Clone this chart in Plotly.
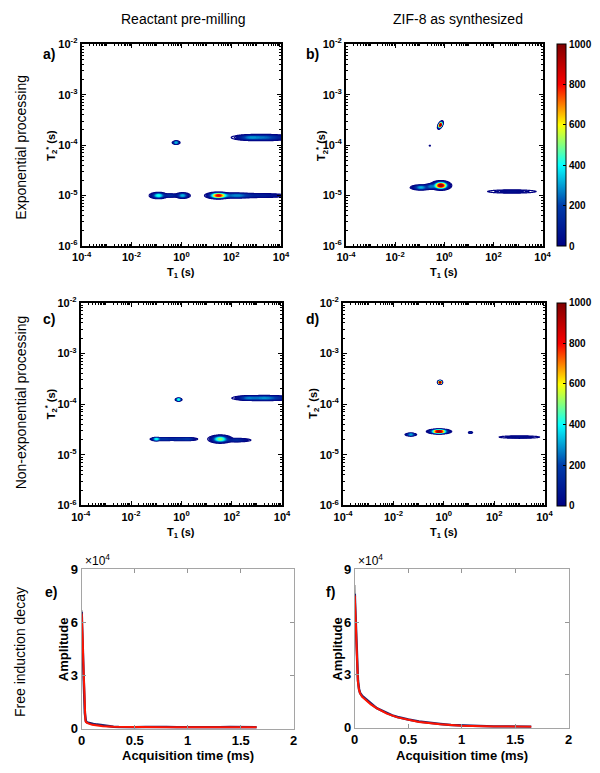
import numpy as np
import plotly.graph_objects as go

W, H = 600, 773

# ---------------- text ----------------
col_titles = ["Reactant pre-milling", "ZIF-8 as synthesized"]
row_titles = ["Exponential processing", "Non-exponential processing", "Free induction decay"]
panel_labels = ["a)", "b)", "c)", "d)", "e)", "f)"]

t1_tickvals = [1e-4, 1e-2, 1e0, 1e2, 1e4]
t1_ticktext = ["10<sup>-4</sup>", "10<sup>-2</sup>", "10<sup>0</sup>", "10<sup>2</sup>", "10<sup>4</sup>"]
t2_tickvals = [1e-6, 1e-5, 1e-4, 1e-3, 1e-2]
t2_ticktext = ["10<sup>-6</sup>", "10<sup>-5</sup>", "10<sup>-4</sup>", "10<sup>-3</sup>", "10<sup>-2</sup>"]
cbar_ticks = [0, 200, 400, 600, 800, 1000]

fid_xticks = [0, 0.5, 1, 1.5, 2]
fid_xtext = ["0", "0.5", "1", "1.5", "2"]
fid_yticks = [0, 30000, 60000, 90000]
fid_ytext = ["0", "3", "6", "9"]

# ---------------- 2D T1-T2* distributions: peak components ----------------
# centres in log10(T1 / s), log10(T2* / s), widths in decades, amplitude, tilt
a_t1  = [-0.21, -0.92, 0.05, -0.45, 1.48, 2.20, 3.20, 3.30, 2.70]
a_t2  = [-3.95, -5.00, -5.00, -5.00, -5.00, -5.00, -5.00, -3.85, -3.85]
a_wt1 = [0.06, 0.14, 0.12, 0.18, 0.19, 0.35, 0.50, 0.50, 0.25]
a_wt2 = [0.013, 0.024, 0.022, 0.014, 0.024, 0.020, 0.018, 0.025, 0.022]
a_amp = [350, 420, 330, 150, 800, 280, 110, 260, 160]
a_rho = [0, 0, 0, 0, 0, 0, 0, 0, 0]

b_t1  = [-0.16, -0.59, -0.14, -0.95, -0.55, 2.75]
b_t2  = [-3.60, -4.01, -4.80, -4.84, -4.82, -4.92]
b_wt1 = [0.040, 0.020, 0.150, 0.170, 0.120, 0.550]
b_wt2 = [0.029, 0.008, 0.033, 0.020, 0.022, 0.018]
b_amp = [1000, 22, 960, 330, 250, 60]
b_rho = [0.6, 0, 0, 0, 0, 0]

c_t1  = [-0.11, -1.00, -0.70, -0.10, 0.30, 1.54, 2.20, 3.30, 2.60]
c_t2  = [-3.91, -4.69, -4.69, -4.69, -4.69, -4.69, -4.71, -3.88, -3.88]
c_wt1 = [0.05, 0.08, 0.22, 0.25, 0.15, 0.18, 0.25, 0.50, 0.20]
c_wt2 = [0.011, 0.013, 0.012, 0.012, 0.012, 0.030, 0.015, 0.020, 0.018]
c_amp = [450, 350, 180, 170, 150, 520, 150, 300, 160]
c_rho = [0, 0, 0, 0, 0, 0, 0, 0, 0]

d_t1  = [-0.15, -1.31, -0.19, 1.06, 3.00]
d_t2  = [-3.57, -4.60, -4.54, -4.56, -4.65]
d_wt1 = [0.035, 0.090, 0.170, 0.040, 0.450]
d_wt2 = [0.014, 0.011, 0.017, 0.007, 0.013]
d_amp = [1000, 320, 980, 110, 60]
d_rho = [0, 0, 0, 0, 0]

# ---------------- free induction decays (amplitude vs ms) ----------------
e_fit_t = [0, 0.005, 0.01, 0.015, 0.02, 0.025, 0.03, 0.035, 0.04, 0.06, 0.1, 0.15, 0.2, 0.3, 0.5, 0.8, 1.2, 1.65]
e_fit   = [65000, 60000, 50000, 38000, 26000, 15000, 8000, 5000, 3800, 3000, 2200, 1700, 1400, 1100, 900, 850, 800, 800]
e_dat_t = [0, 0.01, 0.02, 0.03, 0.04, 0.05, 0.07, 0.09, 0.11, 0.13, 0.15, 0.18, 0.21, 0.24, 0.27, 0.3, 0.35,
           0.4, 0.5, 0.6, 0.7, 0.8, 0.9, 1.0, 1.1, 1.2, 1.3, 1.4, 1.5, 1.65]
e_dat   = [66000, 51000, 27000, 9000, 4300, 3600, 3200, 2900, 2700, 2500, 2300, 2100, 1800, 1600, 1400, 1200, 1000,
           1100, 900, 1000, 800, 1000, 900, 800, 1000, 900, 800, 1000, 900, 800]
e_raw_t = [0, 0.004]
e_raw   = [67000, 62000]

f_fit_t = [0, 0.005, 0.01, 0.015, 0.02, 0.025, 0.03, 0.04, 0.05, 0.07, 0.1, 0.15, 0.2, 0.3, 0.4, 0.5, 0.6, 0.8, 1.0, 1.3, 1.65]
f_fit   = [75000, 70000, 60000, 50000, 40000, 32000, 26000, 21500, 19500, 17500, 15800, 13300, 11300, 8000, 5900, 4500, 3300, 2000, 1200, 800, 600]
f_dat_t = [0, 0.01, 0.02, 0.03, 0.04, 0.05, 0.07, 0.09, 0.11, 0.13, 0.15, 0.18, 0.21, 0.24, 0.27, 0.3, 0.35,
           0.4, 0.45, 0.5, 0.6, 0.7, 0.8, 0.9, 1.0, 1.1, 1.2, 1.3, 1.4, 1.5, 1.65]
f_dat   = [76000, 61000, 41000, 27000, 22000, 19800, 18000, 16900, 15900, 14800, 13700, 12400, 11000, 10100, 9000, 8300, 7000,
           6100, 5300, 4700, 3600, 2700, 2200, 1600, 1300, 1100, 900, 800, 700, 800, 600]
f_raw_t = [0, 0.004]
f_raw   = [81000, 74000]

# ---------------- geometry (pixels) ----------------
def px_x(p):
    return p / W

def px_y(p):
    return 1 - p / H

boxes = {
    1: (74, 280, 37, 243),
    2: (347, 550, 37, 243),
    3: (73, 281, 301, 508),
    4: (344, 552, 301, 508),
    5: (74, 293, 573, 736),
    6: (356, 577, 573, 735),
}

FONT = "Arial, Liberation Sans, sans-serif"

# ---------------- build 2D fields ----------------
lx = np.linspace(-4, 4, 321)
ly = np.linspace(-6, -2, 501)
LX, LY = np.meshgrid(lx, ly)


def field(cx, cy, sx, sy, amp, rho):
    z = np.zeros_like(LX)
    for x0, y0, a, b, A, r in zip(cx, cy, sx, sy, amp, rho):
        u = (LX - x0) / a
        v = (LY - y0) / b
        z += A * np.exp(-(u * u - 2 * r * u * v + v * v) / (2 * (1 - r * r)))
    return np.clip(z, 0, 1000).astype(np.float32)


panels2d = [
    (1, field(a_t1, a_t2, a_wt1, a_wt2, a_amp, a_rho)),
    (2, field(b_t1, b_t2, b_wt1, b_wt2, b_amp, b_rho)),
    (3, field(c_t1, c_t2, c_wt1, c_wt2, c_amp, c_rho)),
    (4, field(d_t1, d_t2, d_wt1, d_wt2, d_amp, d_rho)),
]

fig = go.Figure()

for k, Z in panels2d:
    fig.add_trace(go.Contour(
        x=10 ** lx, y=10 ** ly, z=Z,
        xaxis=f"x{k}", yaxis=f"y{k}",
        colorscale="Jet", zmin=0, zmax=1000, showscale=False,
        contours=dict(start=12, end=1000, size=15, coloring="lines"),
        line=dict(width=1.2), hoverinfo="skip",
    ))

# colorbars for b and d
for k in (2, 4):
    x0, x1, y0, y1 = boxes[k]
    fig.add_trace(go.Scatter(
        x=[1e-3], y=[1e-3], mode="markers", xaxis=f"x{k}", yaxis=f"y{k}",
        hoverinfo="skip",
        marker=dict(size=1, opacity=0, color=[0], cmin=0, cmax=1000, colorscale="Jet", showscale=True,
                    colorbar=dict(x=px_x(565), xanchor="left", xpad=0, thickness=9,
                                  y=px_y((y0 + y1) / 2), yanchor="middle", ypad=0,
                                  len=(y1 - y0) / H, lenmode="fraction",
                                  outlinecolor="black", outlinewidth=1,
                                  tickvals=cbar_ticks, ticks="inside", ticklen=3, tickcolor="black",
                                  tickfont=dict(family=FONT, size=10, color="black", weight="bold"))),
    ))

# FID traces
for k, (rt, rv, dt, dv, ft, fv) in zip((5, 6), [
        (e_raw_t, e_raw, e_dat_t, e_dat, e_fit_t, e_fit),
        (f_raw_t, f_raw, f_dat_t, f_dat, f_fit_t, f_fit)]):
    fig.add_trace(go.Scatter(x=rt, y=rv, mode="lines", line=dict(color="rgb(170,170,170)", width=2),
                             xaxis=f"x{k}", yaxis=f"y{k}", hoverinfo="skip"))
    fig.add_trace(go.Scatter(x=dt, y=dv, mode="lines", line=dict(color="rgb(35,35,110)", width=2.5),
                             xaxis=f"x{k}", yaxis=f"y{k}", hoverinfo="skip"))
    fig.add_trace(go.Scatter(x=ft, y=fv, mode="lines", line=dict(color="rgb(255,20,0)", width=2),
                             xaxis=f"x{k}", yaxis=f"y{k}", hoverinfo="skip"))

# ---------------- axes ----------------
minor_x = [m * 10.0 ** d for d in range(-4, 4) for m in range(1, 10) if not (m == 1 and d % 2 == 0)]
minor_y = [m * 10.0 ** d for d in range(-6, -2) for m in range(2, 10)]

layout = dict(width=W, height=H, margin=dict(l=0, r=0, t=0, b=0), autosize=False,
              paper_bgcolor="white", plot_bgcolor="white", showlegend=False)

tickf_small = dict(family=FONT, size=11, color="black", weight="bold")
tickf_big = dict(family=FONT, size=13, color="black", weight="bold")

for k, (x0, x1, y0, y1) in boxes.items():
    xd = [px_x(x0), px_x(x1)]
    yd = [px_y(y1), px_y(y0)]
    if k <= 4:
        xa = dict(domain=xd, anchor=f"y{k}", type="log", range=[-4, 4],
                  tickmode="array", tickvals=t1_tickvals, ticktext=t1_ticktext,
                  ticks="inside", ticklen=4, tickwidth=1, tickcolor="black",
                  showline=True, linecolor="black", linewidth=2, mirror="allticks",
                  showgrid=False, zeroline=False, tickfont=tickf_small,
                  minor=dict(tickvals=minor_x, ticks="inside", ticklen=2, tickcolor="black", showgrid=False))
        ya = dict(domain=yd, anchor=f"x{k}", type="log", range=[-6, -2],
                  tickmode="array", tickvals=t2_tickvals, ticktext=t2_ticktext,
                  ticks="inside", ticklen=4, tickwidth=1, tickcolor="black",
                  showline=True, linecolor="black", linewidth=2, mirror="allticks",
                  showgrid=False, zeroline=False, tickfont=tickf_small,
                  minor=dict(tickvals=minor_y, ticks="inside", ticklen=2, tickcolor="black", showgrid=False))
    else:
        xa = dict(domain=xd, anchor=f"y{k}", range=[0, 2],
                  tickmode="array", tickvals=fid_xticks, ticktext=fid_xtext,
                  ticks="inside", ticklen=4, tickcolor="rgb(150,150,150)",
                  showline=True, linecolor="rgb(165,165,165)", linewidth=1, mirror="allticks",
                  showgrid=False, zeroline=False, tickfont=tickf_big)
        ya = dict(domain=yd, anchor=f"x{k}", range=[0, 90000],
                  tickmode="array", tickvals=fid_yticks, ticktext=fid_ytext,
                  ticks="inside", ticklen=4, tickcolor="rgb(150,150,150)",
                  showline=True, linecolor="rgb(165,165,165)", linewidth=1, mirror="allticks",
                  showgrid=False, zeroline=False, tickfont=tickf_big)
    layout[f"xaxis{k}"] = xa
    layout[f"yaxis{k}"] = ya

fig.update_layout(**layout)

# ---------------- annotations ----------------
ann = []


def add_text(text, x, y, size, bold=False, angle=0, xanchor="center", yanchor="middle"):
    ann.append(dict(text=text, x=px_x(x), y=px_y(y), xref="paper", yref="paper",
                    showarrow=False, textangle=angle, xanchor=xanchor, yanchor=yanchor,
                    font=dict(family=FONT, size=size, color="black", weight="bold" if bold else "normal")))


add_text(col_titles[0], 179, 11, 14)
add_text(col_titles[1], 463, 11, 14)
add_text(row_titles[0], 11, 142, 14, angle=-90)
add_text(row_titles[1], 11, 403, 14, angle=-90)
add_text(row_titles[2], 11, 658, 14, angle=-90)

for lab, (x, y) in zip(panel_labels, [(40, 47), (312, 47), (40, 318), (312, 318), (42, 596), (331, 596)]):
    add_text(lab, x, y, 14, bold=True)

t1_label = "T<sub>1</sub> (s)"
t2_label = "T<sub>2</sub><sup>*</sup> (s)"
for k in (1, 2, 3, 4):
    x0, x1, y0, y1 = boxes[k]
    add_text(t1_label, (x0 + x1) / 2, y1 + 28, 11, bold=True)
add_text(t2_label, 43, 140, 11, bold=True, angle=-90)
add_text(t2_label, 322, 140, 11, bold=True, angle=-90)
add_text(t2_label, 42, 404, 11, bold=True, angle=-90)
add_text(t2_label, 313, 404, 11, bold=True, angle=-90)

for k in (5, 6):
    x0, x1, y0, y1 = boxes[k]
    add_text("Acquisition time (ms)", (x0 + x1) / 2, 763, 13, bold=True)
    add_text("Amplitude", x0 - 18, (y0 + y1) / 2, 13, bold=True, angle=-90)
    add_text("\u00d710<sup>4</sup>", x0 + 1, y0 + 1, 12, xanchor="left", yanchor="bottom")

fig.update_layout(annotations=ann)

fig.write_html(
    "out.html",
    config={"displayModeBar": False},
    post_script=("document.documentElement.style.margin='0';document.documentElement.style.overflow='hidden';"
                 "document.body.style.margin='0';document.body.style.padding='0';document.body.style.overflow='hidden';"),
)
